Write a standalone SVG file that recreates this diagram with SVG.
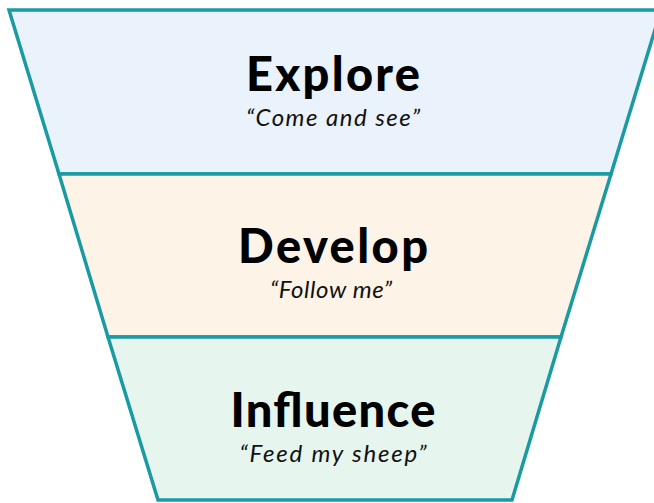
<svg xmlns="http://www.w3.org/2000/svg" width="654" height="503" viewBox="0 0 654 503">
  <style>
    .band { stroke: #1a9aa2; stroke-width: 3.5; stroke-linejoin: miter; }
    .title { font-family: Lato, "Noto Sans", "Liberation Sans", sans-serif; font-weight: 900; font-size: 47px; fill: #000; text-anchor: middle; }
    .sub { font-family: Lato, "Noto Sans", "Liberation Sans", sans-serif; font-style: italic; font-size: 24px; fill: #111; text-anchor: middle; }
  </style>
  <rect width="654" height="503" fill="#ffffff"/>
  <g id="explore">
    <polygon class="band" fill="#eaf2fb" points="9,10 661,10 611,174 59,174"/>
    <text class="title" x="333" y="91" textLength="174" lengthAdjust="spacing">Explore</text>
    <text class="sub" x="333" y="126" textLength="174" lengthAdjust="spacing">“Come and see”</text>
  </g>
  <g id="develop">
    <polygon class="band" fill="#fdf3e7" points="59,174 611,174 561,337 108,337"/>
    <text class="title" x="333" y="263" textLength="190" lengthAdjust="spacing">Develop</text>
    <text class="sub" x="331" y="298" textLength="122" lengthAdjust="spacing">“Follow me”</text>
  </g>
  <g id="influence">
    <polygon class="band" fill="#e7f5ef" points="108,337 561,337 512,500 158,500"/>
    <text class="title" x="333" y="427" textLength="205" lengthAdjust="spacing">Influence</text>
    <text class="sub" x="333" y="462" textLength="187" lengthAdjust="spacing">“Feed my sheep”</text>
  </g>
  <g id="connectors"></g>
</svg>
